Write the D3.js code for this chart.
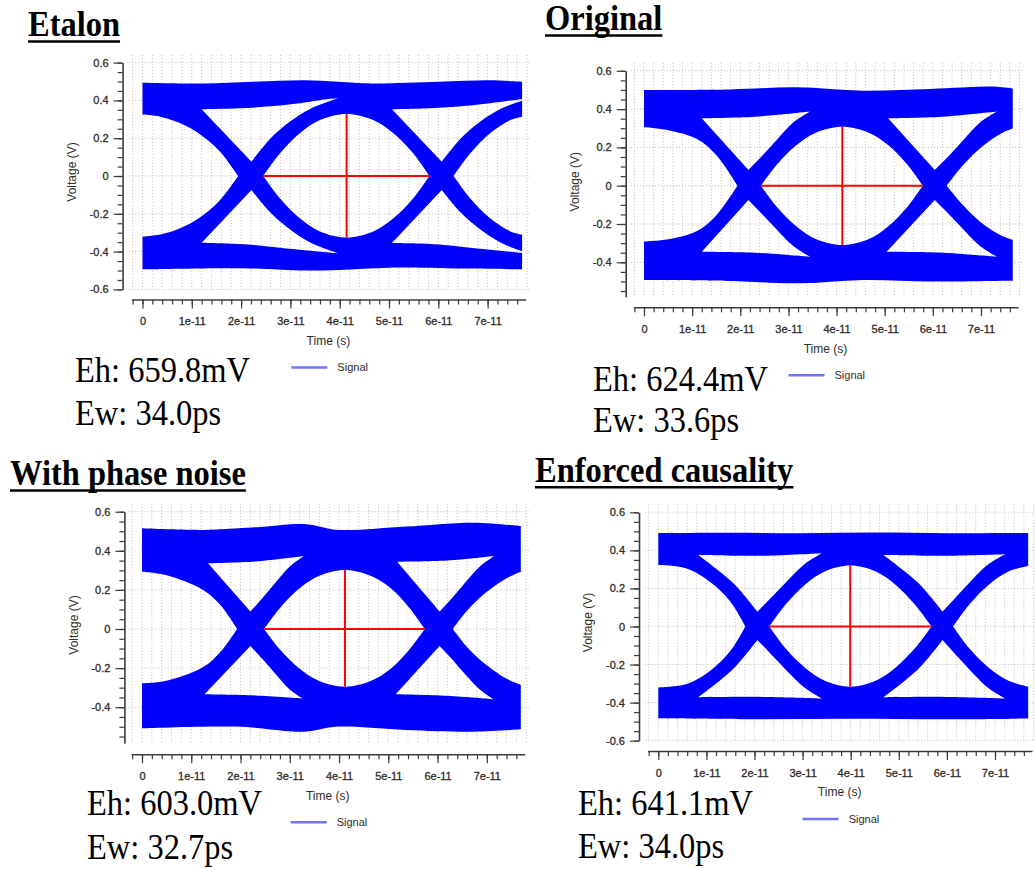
<!DOCTYPE html>
<html>
<head>
<meta charset="utf-8">
<script src="https://cdn.jsdelivr.net/npm/d3@7"></script>
<style>
  body { margin: 0; background: #fff; }
  svg { display: block; }
</style>
</head>
<body>
<div id="content"></div>
<script>
// Tick values and labels (time in units of 1e-11 s, voltage in V)
let timeTicks = [0, 1, 2, 3, 4, 5, 6, 7];
let voltTicks = [-0.6, -0.4, -0.2, 0, 0.2, 0.4, 0.6];
let titles = ["Etalon", "Original", "With phase noise", "Enforced causality"];
let eyeHeights = ["659.8mV", "624.4mV", "603.0mV", "641.1mV"];
let eyeWidths = ["34.0ps", "33.6ps", "32.7ps", "34.0ps"];

// Eye outlines: [time, voltage]
// envelope = outer edge of the traces, holes = white openings (each hole = list of sides)
// marker = [t left, t right, t centre, v top, v bottom]
let etalonTop = [[0, 0.494], [1.22, 0.49], [2.25, 0.499], [3.28, 0.506], [3.97, 0.499], [4.65, 0.49], [6.02, 0.499], [7.05, 0.506], [7.70, 0.499]];
let etalonBottom = [[0, -0.494], [2.0, -0.488], [3.3, -0.5], [4.0, -0.497], [5.0, -0.485], [6.5, -0.49], [7.70, -0.494]];
let etalonHoles = [
  [[[0, 0.325], [0.36, 0.314], [0.76, 0.28], [1.17, 0.22], [1.57, 0.13], [1.94, 0]],
   [[1.94, 0], [1.57, -0.128], [1.17, -0.218], [0.76, -0.277], [0.36, -0.31], [0, -0.321]]],
  [[[2.45, 0], [2.79, 0.12], [3.19, 0.226], [3.6, 0.296], [4.14, 0.328], [4.68, 0.296], [5.09, 0.226], [5.49, 0.12], [5.82, 0]],
   [[5.82, 0], [5.49, -0.119], [5.09, -0.224], [4.68, -0.293], [4.14, -0.325], [3.6, -0.293], [3.19, -0.224], [2.79, -0.119], [2.45, 0]]],
  [[[6.31, 0], [6.65, 0.12], [7.05, 0.226], [7.46, 0.296], [7.70, 0.314]],
   [[7.70, -0.31], [7.46, -0.293], [7.05, -0.224], [6.65, -0.119], [6.31, 0]]],
  [[[1.2, 0.353], [1.98, 0.358], [2.65, 0.37], [3.19, 0.385], [3.74, 0.406], [3.97, 0.411]],
   [[3.97, 0.411], [3.4, 0.355], [3.0, 0.29], [2.6, 0.2], [2.21, 0.076]],
   [[2.21, 0.076], [1.2, 0.353]]],
  [[[1.2, -0.353], [1.98, -0.36], [2.65, -0.375], [3.19, -0.39], [3.97, -0.409]],
   [[3.97, -0.409], [3.4, -0.352], [3.0, -0.285], [2.6, -0.195], [2.21, -0.074]],
   [[2.21, -0.074], [1.2, -0.353]]],
  [[[5.06, 0.353], [5.84, 0.358], [6.51, 0.37], [7.05, 0.385], [7.6, 0.404], [7.70, 0.406]],
   [[7.70, 0.398], [7.26, 0.355], [6.86, 0.29], [6.46, 0.2], [6.07, 0.076]],
   [[6.07, 0.076], [5.06, 0.353]]],
  [[[5.06, -0.355], [5.84, -0.36], [6.51, -0.375], [7.05, -0.39], [7.6, -0.405], [7.70, -0.407]],
   [[7.70, -0.398], [7.26, -0.352], [6.86, -0.285], [6.46, -0.195], [6.07, -0.074]],
   [[6.07, -0.074], [5.06, -0.355]]]
];
let etalonMarker = [2.45, 5.82, 4.14, 0.328, -0.325];

let originalTop = [[0, 0.5], [1.79, 0.503], [3.17, 0.514], [4.56, 0.496], [5.94, 0.505], [7.33, 0.517], [7.66, 0.508]];
let originalBottom = [[0, -0.492], [1.79, -0.497], [3.17, -0.51], [4.56, -0.492], [5.94, -0.5], [7.33, -0.497], [7.66, -0.497]];
let originalHoles = [
  [[[0, 0.305], [0.5, 0.29], [1.09, 0.245], [1.5, 0.16], [1.94, 0]],
   [[1.94, 0], [1.5, -0.155], [1.09, -0.238], [0.5, -0.28], [0, -0.292]]],
  [[[2.43, 0], [2.77, 0.113], [3.17, 0.212], [3.58, 0.278], [4.12, 0.308], [4.66, 0.278], [5.07, 0.212], [5.46, 0.113], [5.79, 0]],
   [[5.79, 0], [5.46, -0.114], [5.07, -0.213], [4.66, -0.28], [4.12, -0.31], [3.58, -0.28], [3.17, -0.213], [2.77, -0.114], [2.43, 0]]],
  [[[6.29, 0], [6.62, 0.105], [7.0, 0.2], [7.4, 0.27], [7.66, 0.3]],
   [[7.66, -0.284], [7.4, -0.258], [7.0, -0.192], [6.62, -0.1], [6.29, 0]]],
  [[[1.2, 0.352], [2.3, 0.36], [3.45, 0.387]],
   [[3.45, 0.387], [3.1, 0.33], [2.76, 0.24], [2.45, 0.155], [2.17, 0.082]],
   [[2.17, 0.082], [1.2, 0.352]]],
  [[[1.2, -0.345], [2.3, -0.35], [3.45, -0.371]],
   [[3.45, -0.371], [3.1, -0.315], [2.76, -0.23], [2.45, -0.148], [2.17, -0.075]],
   [[2.17, -0.075], [1.2, -0.345]]],
  [[[5.07, 0.352], [6.2, 0.36], [7.33, 0.387]],
   [[7.33, 0.387], [6.98, 0.33], [6.64, 0.24], [6.33, 0.155], [6.04, 0.082]],
   [[6.04, 0.082], [5.07, 0.352]]],
  [[[5.04, -0.345], [6.2, -0.35], [7.33, -0.371]],
   [[7.33, -0.371], [6.98, -0.315], [6.64, -0.23], [6.33, -0.148], [6.04, -0.075]],
   [[6.04, -0.075], [5.04, -0.345]]]
];
let originalMarker = [2.43, 5.79, 4.12, 0.308, -0.31];

let noiseTop = [[0, 0.515], [1.24, 0.507], [2.3, 0.52], [3.29, 0.537], [3.98, 0.507], [5.35, 0.524], [6.73, 0.544], [7.69, 0.527]];
let noiseBottom = [[0, -0.508], [1.92, -0.499], [3.29, -0.525], [3.98, -0.499], [5.35, -0.516], [6.73, -0.525], [7.69, -0.513]];
let noiseHoles = [
  [[[0, 0.293], [0.5, 0.275], [1.24, 0.2], [1.6, 0.12], [1.93, 0]],
   [[1.93, 0], [1.6, -0.115], [1.24, -0.195], [0.5, -0.265], [0, -0.278]]],
  [[[2.48, 0], [2.81, 0.11], [3.2, 0.208], [3.6, 0.272], [4.12, 0.302], [4.64, 0.272], [5.05, 0.208], [5.42, 0.11], [5.74, 0]],
   [[5.74, 0], [5.42, -0.108], [5.05, -0.203], [4.64, -0.266], [4.12, -0.295], [3.6, -0.266], [3.2, -0.203], [2.81, -0.108], [2.48, 0]]],
  [[[6.31, 0], [6.62, 0.1], [7.0, 0.19], [7.4, 0.26], [7.69, 0.293]],
   [[7.69, -0.286], [7.4, -0.255], [7.0, -0.186], [6.62, -0.098], [6.31, 0]]],
  [[[1.34, 0.336], [2.3, 0.345], [3.29, 0.373]],
   [[3.29, 0.373], [3.0, 0.32], [2.72, 0.24], [2.45, 0.16], [2.2, 0.089]],
   [[2.2, 0.089], [1.34, 0.336]]],
  [[[1.27, -0.334], [2.3, -0.34], [3.26, -0.355]],
   [[3.26, -0.355], [2.98, -0.305], [2.71, -0.23], [2.45, -0.155], [2.2, -0.087]],
   [[2.2, -0.087], [1.27, -0.334]]],
  [[[5.18, 0.344], [6.2, 0.35], [7.15, 0.373]],
   [[7.15, 0.373], [6.86, 0.32], [6.57, 0.24], [6.3, 0.16], [6.04, 0.089]],
   [[6.04, 0.089], [5.18, 0.344]]],
  [[[5.15, -0.334], [6.2, -0.342], [7.14, -0.36]],
   [[7.14, -0.36], [6.85, -0.308], [6.56, -0.232], [6.3, -0.156], [6.04, -0.087]],
   [[6.04, -0.087], [5.15, -0.334]]]
];
let noiseMarker = [2.48, 5.74, 4.12, 0.302, -0.295];

let causalTop = [[0, 0.49], [1.5, 0.492], [3.0, 0.49], [4.5, 0.494], [6.0, 0.49], [7.69, 0.491]];
let causalBottom = [[0, -0.482], [2.0, -0.487], [4.0, -0.485], [6.0, -0.488], [7.69, -0.484]];
let causalHoles = [
  [[[0, 0.323], [0.59, 0.305], [1.1, 0.23], [1.5, 0.13], [1.81, 0]],
   [[1.81, 0], [1.5, -0.128], [1.1, -0.228], [0.59, -0.302], [0, -0.32]]],
  [[[2.31, 0], [2.65, 0.117], [3.05, 0.22], [3.46, 0.289], [3.99, 0.32], [4.52, 0.289], [4.93, 0.22], [5.33, 0.117], [5.68, 0]],
   [[5.68, 0], [5.33, -0.116], [4.93, -0.217], [4.52, -0.285], [3.99, -0.316], [3.46, -0.285], [3.05, -0.217], [2.65, -0.116], [2.31, 0]]],
  [[[6.13, 0], [6.47, 0.117], [6.87, 0.22], [7.28, 0.289], [7.69, 0.318]],
   [[7.69, -0.316], [7.28, -0.285], [6.87, -0.217], [6.47, -0.116], [6.13, 0]]],
  [[[0.83, 0.376], [2.2, 0.372], [3.4, 0.385]],
   [[3.4, 0.385], [3.05, 0.33], [2.7, 0.245], [2.38, 0.16], [2.06, 0.078]],
   [[2.06, 0.078], [1.55, 0.23], [0.83, 0.376]]],
  [[[0.83, -0.372], [2.2, -0.37], [3.4, -0.378]],
   [[3.4, -0.378], [3.05, -0.323], [2.7, -0.24], [2.38, -0.155], [2.06, -0.071]],
   [[2.06, -0.071], [1.55, -0.225], [0.83, -0.372]]],
  [[[4.68, 0.376], [6.0, 0.372], [7.21, 0.38]],
   [[7.21, 0.38], [6.86, 0.327], [6.52, 0.245], [6.21, 0.16], [5.91, 0.078]],
   [[5.91, 0.078], [5.4, 0.23], [4.68, 0.376]]],
  [[[4.68, -0.372], [6.0, -0.37], [7.21, -0.378]],
   [[7.21, -0.378], [6.86, -0.323], [6.52, -0.24], [6.21, -0.155], [5.91, -0.071]],
   [[5.91, -0.071], [5.4, -0.225], [4.68, -0.372]]]
];
let causalMarker = [2.31, 5.68, 3.99, 0.32, -0.316];

// Where each panel sits on the page (pixels)
let layouts = [
  {ox: 142.5, kx: 49.3, oy: 176, ky: 189, vMin: -0.6, vMax: 0.6, yAxisX: 122.6, xAxisY: 299.5,
   titleX: 28, titleY: 36, ehX: 75, ehY: 381.5, ewY: 425},
  {ox: 644, kx: 48.14, oy: 185.7, ky: 191.5, vMin: -0.58, vMax: 0.6, yAxisX: 625.7, xAxisY: 307.3,
   titleX: 545, titleY: 30, ehX: 593, ehY: 391, ewY: 431.7},
  {ox: 142, kx: 49.26, oy: 629, ky: 195.5, vMin: -0.585, vMax: 0.6, yAxisX: 124.4, xAxisY: 754.3,
   titleX: 10, titleY: 485, ehX: 87, ehY: 815, ewY: 859},
  {ox: 658.3, kx: 48.1, oy: 626.5, ky: 190.3, vMin: -0.6, vMax: 0.6, yAxisX: 639, xAxisY: 751,
   titleX: 535, titleY: 481.7, ehX: 578, ehY: 815, ewY: 858}
];

let panels = [
  {top: etalonTop, bottom: etalonBottom, holes: etalonHoles, marker: etalonMarker},
  {top: originalTop, bottom: originalBottom, holes: originalHoles, marker: originalMarker},
  {top: noiseTop, bottom: noiseBottom, holes: noiseHoles, marker: noiseMarker},
  {top: causalTop, bottom: causalBottom, holes: causalHoles, marker: causalMarker}
];

let width = 1035;
let height = 869;
let axisColor = "#3c3c3c";
let labelColor = "#302c28";
let sansFont = "'Liberation Sans', Arial, sans-serif";
let serifFont = "'Liberation Serif', 'Times New Roman', serif";

let svg = d3.select("#content")
    .append("svg")
    .attr("width", width)
    .attr("height", height);

panels.forEach(function(pd, i) {
    let p = layouts[i];
    let x = d3.scaleLinear()
        .domain([-0.22, 7.77])
        .range([p.ox - 0.22 * p.kx, p.ox + 7.77 * p.kx]);
    let y = d3.scaleLinear()
        .domain([p.vMin, p.vMax])
        .range([p.oy - p.vMin * p.ky, p.oy - p.vMax * p.ky]);

    let g = svg.append("g");

    // Dotted grid
    g.selectAll(".vgrid")
        .data(d3.range(-0.2, 7.81, 0.2))
        .enter().append("line")
        .attr("x1", d => x(d)).attr("x2", d => x(d))
        .attr("y1", y(0.64)).attr("y2", y(p.vMin))
        .attr("stroke", "#c0c0c0")
        .attr("stroke-dasharray", "1,2");
    g.selectAll(".hgrid")
        .data(voltTicks.filter(v => v >= p.vMin - 1e-9 && v <= p.vMax + 1e-9))
        .enter().append("line")
        .attr("x1", x(-0.27)).attr("x2", x(7.86))
        .attr("y1", d => y(d)).attr("y2", d => y(d))
        .attr("stroke", "#c0c0c0")
        .attr("stroke-dasharray", "1,2");

    // Eye: envelope with the openings cut out
    let line = d3.line()
        .x(d => x(d[0]))
        .y(d => y(d[1]))
        .curve(d3.curveCatmullRom.alpha(0.5));
    let path = line(pd.top) + "L" + line(pd.bottom.slice().reverse()).slice(1) + "Z";
    pd.holes.forEach(function(hole) {
        hole.forEach(function(side, j) {
            let s = line(side);
            path += j === 0 ? s : "L" + s.slice(1);
        });
        path += "Z";
    });
    g.append("path")
        .attr("d", path)
        .attr("fill", "#0000ff")
        .attr("fill-rule", "evenodd");

    // Eye height / width markers
    let m = pd.marker;
    g.append("line")
        .attr("x1", x(m[0])).attr("x2", x(m[1]))
        .attr("y1", y(0)).attr("y2", y(0))
        .attr("stroke", "#ff0000").attr("stroke-width", 2);
    g.append("line")
        .attr("x1", x(m[2])).attr("x2", x(m[2]))
        .attr("y1", y(m[3])).attr("y2", y(m[4]))
        .attr("stroke", "#ff0000").attr("stroke-width", 2);

    // Axes
    let xMinor = g.append("g")
        .attr("transform", "translate(0," + p.xAxisY + ")")
        .call(d3.axisBottom(x).tickValues(d3.range(-0.2, 7.7, 0.2)).tickSize(5).tickSizeOuter(0).tickFormat(""));
    xMinor.select(".domain").remove();
    let xMajor = g.append("g")
        .attr("transform", "translate(0," + p.xAxisY + ")")
        .call(d3.axisBottom(x).tickValues(timeTicks).tickSize(9).tickSizeOuter(0).tickPadding(9)
            .tickFormat(d => d === 0 ? "0" : d + "e-11"));

    let yMinorVals = d3.range(Math.ceil(p.vMin / 0.05 - 1e-6), Math.floor(p.vMax / 0.05 + 1e-6) + 1)
        .map(k => +(k * 0.05).toFixed(2));
    let yMinor = g.append("g")
        .attr("transform", "translate(" + p.yAxisX + ",0)")
        .call(d3.axisLeft(y).tickValues(yMinorVals).tickSize(5).tickSizeOuter(0).tickFormat(""));
    yMinor.select(".domain").remove();
    let yMajor = g.append("g")
        .attr("transform", "translate(" + p.yAxisX + ",0)")
        .call(d3.axisLeft(y)
            .tickValues(voltTicks.filter(v => v >= p.vMin - 1e-9 && v <= p.vMax + 1e-9))
            .tickSize(9).tickSizeOuter(0).tickPadding(5)
            .tickFormat(d => d === 0 ? "0" : String(+d.toFixed(1))));

    [xMinor, xMajor, yMinor, yMajor].forEach(function(ax) {
        ax.selectAll("line").attr("stroke", axisColor).attr("stroke-width", 1.2);
        ax.selectAll(".domain").attr("stroke", axisColor).attr("stroke-width", 1.6);
        ax.selectAll("text")
            .attr("fill", labelColor)
            .attr("stroke", labelColor)
            .attr("stroke-width", 0.3)
            .style("font-family", sansFont)
            .style("font-size", "11px");
    });

    // Axis titles
    g.append("text")
        .attr("transform", "translate(" + (p.yAxisX - 51) + "," + (p.oy - 4) + ") rotate(-90)")
        .attr("text-anchor", "middle")
        .attr("dy", "0.35em")
        .attr("fill", labelColor)
        .style("font-family", sansFont)
        .style("font-size", "12px")
        .text("Voltage (V)");
    let xc = x(3.77);
    g.append("text")
        .attr("x", xc).attr("y", p.xAxisY + 41)
        .attr("text-anchor", "middle")
        .attr("dy", "0.35em")
        .attr("fill", labelColor)
        .style("font-family", sansFont)
        .style("font-size", "12px")
        .text("Time (s)");

    // Legend
    g.append("line")
        .attr("x1", xc - 37).attr("x2", xc - 1)
        .attr("y1", p.xAxisY + 68).attr("y2", p.xAxisY + 68)
        .attr("stroke", "#7272ff").attr("stroke-width", 2.5);
    g.append("text")
        .attr("x", xc + 9).attr("y", p.xAxisY + 68)
        .attr("dy", "0.35em")
        .attr("fill", labelColor)
        .style("font-family", sansFont)
        .style("font-size", "11px")
        .text("Signal");

    // Eye height / width readouts
    g.append("text")
        .attr("transform", "translate(" + p.ehX + "," + p.ehY + ") scale(1,1.13)")
        .style("font-family", serifFont)
        .style("font-size", "32.5px")
        .text("Eh: " + eyeHeights[i]);
    g.append("text")
        .attr("transform", "translate(" + p.ehX + "," + p.ewY + ") scale(1,1.13)")
        .style("font-family", serifFont)
        .style("font-size", "32.5px")
        .text("Ew: " + eyeWidths[i]);

    // Underlined panel title
    let title = g.append("text")
        .attr("transform", "translate(" + p.titleX + "," + p.titleY + ") scale(1,1.13)")
        .style("font-family", serifFont)
        .style("font-size", "32.5px")
        .style("font-weight", "bold")
        .text(titles[i]);
    let tw = title.node().getComputedTextLength();
    g.append("line")
        .attr("x1", p.titleX).attr("x2", p.titleX + tw)
        .attr("y1", p.titleY + 5.5).attr("y2", p.titleY + 5.5)
        .attr("stroke", "#000").attr("stroke-width", 2.5);
});
</script>
</body>
</html>
